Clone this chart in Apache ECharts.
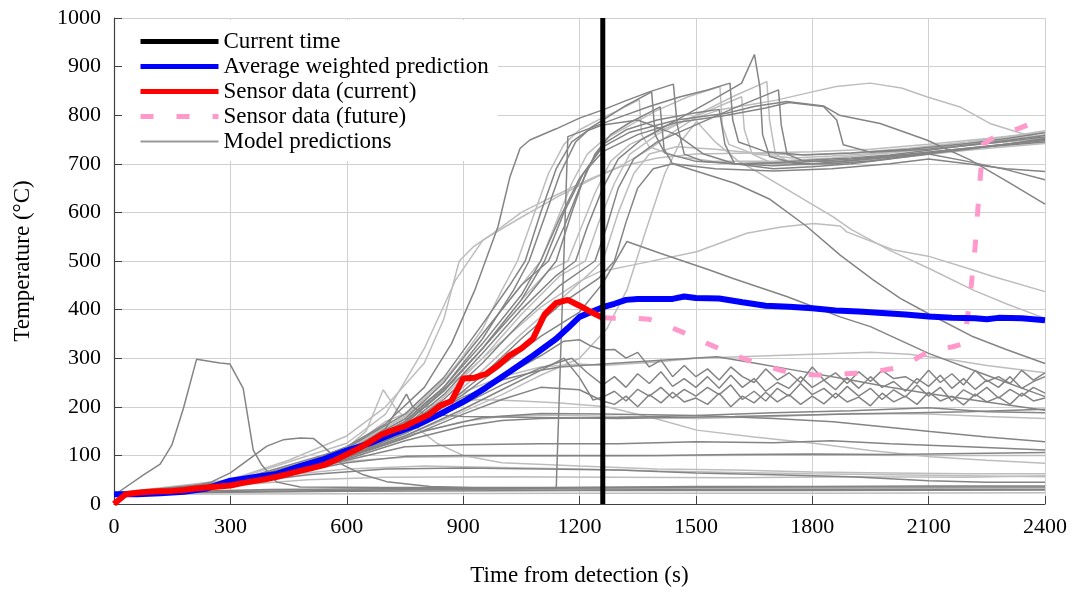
<!DOCTYPE html>
<html>
<head>
<meta charset="utf-8">
<script src="https://cdn.jsdelivr.net/npm/echarts@6/dist/echarts.min.js"></script>
<style>
  html, body { margin: 0; padding: 0; background: #fff; }
  #chart { width: 1078px; height: 595px; }
</style>
</head>
<body>
<div id="chart"></div>
<script>
// Time of the current forecast (s)
const currentTime = 1260;

// Measured sensor temperature up to the current time: [s, °C]
const sensorCurrent = [
  [0,0],[30,20],[60,23],[90,25],[120,26],[150,27],[180,29],[210,32],[240,34],[270,36],
  [300,38],[330,43],[360,47],[390,51],[420,56],[450,62],[480,68],[510,74],[540,80],[570,90],
  [600,102],[630,114],[660,128],[690,143],[720,152],[750,160],[780,172],[810,183],[840,202],[870,212],
  [900,258],[930,260],[960,268],[990,285],[1020,306],[1050,320],[1080,340],[1110,390],[1140,414],[1170,420],
  [1200,408],[1230,395],[1260,383]
];

// Sensor temperature after the current time: [s, °C]
const sensorFuture = [
  [1260,383],[1290,382],[1320,382],[1350,382],[1380,380],[1410,372],[1440,362],[1470,352],[1500,342],
  [1530,330],[1560,320],[1590,310],[1620,300],[1650,292],[1680,284],[1710,277],[1740,271],[1770,268],
  [1800,266],[1830,265],[1860,266],[1890,268],[1920,270],[1950,272],[1980,275],[2010,279],[2040,288],
  [2070,300],[2100,314],[2130,320],[2160,323],[2190,330],[2200,382],[2210,450],[2220,530],[2230,640],
  [2240,740],[2270,755],[2310,766],[2340,775],[2370,785],[2400,795]
];

// Weighted average of the model predictions: [s, °C]
const weightedAvg = [
  [0,20],[60,20],[120,22],[180,25],[240,32],[300,48],[360,55],[420,62],[480,78],[540,92],
  [600,110],[660,125],[720,145],[780,162],[840,185],[900,210],[960,240],[1020,272],[1080,305],[1140,340],
  [1170,362],[1200,385],[1230,395],[1260,405],[1290,412],[1320,420],[1350,422],[1410,422],[1440,422],[1470,427],
  [1500,424],[1560,423],[1620,415],[1680,408],[1740,406],[1800,403],[1860,398],[1920,396],[1980,393],[2040,390],
  [2100,386],[2160,383],[2220,382],[2250,380],[2280,383],[2340,382],[2400,378]
];

// Individual model runs, darker group: each run is a list of [s, °C]
const modelRunsDark = [
  [[0,20],[150,24],[300,46],[450,72],[600,118],[700,165],[800,240],[870,330],[930,440],[990,571],[1021,674],[1047,732],[1072,749],[1140,772],[1200,794],[1260,811],[1320,830],[1380,848],[1442,864],[1452,780],[1470,720],[1520,705],[1600,700],[1700,702],[1800,708],[1900,712],[2000,718],[2100,728],[2200,738],[2300,748],[2400,758]],
  [[0,18],[300,40],[600,105],[750,170],[850,240],[950,340],[1030,440],[1070,500],[1110,590],[1150,680],[1190,745],[1230,775],[1260,790],[1320,820],[1386,848],[1395,760],[1420,722],[1500,705],[1600,700],[1750,702],[1900,710],[2050,720],[2200,732],[2300,740],[2400,748]],
  [[0,20],[300,44],[600,108],[750,175],[850,250],[950,350],[1050,450],[1120,500],[1160,570],[1200,650],[1240,720],[1280,760],[1330,785],[1408,817],[1418,730],[1440,700],[1500,685],[1600,660],[1691,627],[1786,571],[1872,512],[1957,461],[2027,423],[2099,392],[2215,344],[2300,318],[2400,289]],
  [[0,20],[200,24],[400,26],[600,28],[800,30],[1000,31],[1140,32],[1170,756],[1236,776],[1300,795],[1380,818],[1460,838],[1530,852],[1588,866],[1595,790],[1610,745],[1680,725],[1780,718],[1900,722],[2050,730],[2200,742],[2300,752],[2400,764]],
  [[0,21],[300,44],[600,100],[750,160],[850,225],[950,310],[1050,400],[1140,470],[1190,500],[1220,570],[1260,650],[1300,710],[1360,750],[1450,790],[1540,830],[1618,866],[1651,925],[1665,858],[1672,760],[1690,715],[1760,700],[1850,700],[1950,706],[2050,716],[2200,730],[2300,740],[2400,750]],
  [[0,22],[300,46],[600,102],[750,158],[850,215],[950,290],[1050,375],[1150,450],[1240,500],[1270,570],[1300,650],[1340,710],[1400,745],[1500,780],[1600,815],[1713,852],[1720,780],[1735,720],[1780,705],[1880,706],[2000,715],[2150,728],[2300,740],[2400,752]],
  [[0,20],[300,45],[600,115],[750,185],[850,260],[950,370],[1020,450],[1060,500],[1100,600],[1140,690],[1180,745],[1220,768],[1260,780],[1350,790],[1450,760],[1520,720],[1600,700],[1700,696],[1800,700],[1950,710],[2100,722],[2250,735],[2400,745]],
  [[0,20],[300,40],[600,96],[750,148],[850,200],[950,265],[1050,340],[1150,410],[1250,465],[1290,500],[1320,580],[1350,650],[1390,690],[1440,700],[1550,690],[1700,685],[1850,690],[2000,700],[2100,710],[2200,700],[2300,690],[2400,684]],
  [[0,21],[300,43],[600,103],[750,165],[850,235],[950,320],[1050,410],[1110,470],[1140,500],[1180,600],[1220,690],[1260,740],[1320,770],[1400,790],[1500,805],[1560,812],[1575,740],[1600,700],[1700,690],[1800,694],[1900,700],[2000,710],[2100,720],[2200,705],[2300,688],[2400,667]],
  [[0,20],[300,44],[600,104],[750,165],[850,232],[950,320],[1050,420],[1110,500],[1160,600],[1210,680],[1260,725],[1350,760],[1450,785],[1580,800],[1680,815],[1740,826],[1829,818],[1863,790],[1880,739],[1950,724],[2100,730],[2250,742],[2400,755]],
  [[0,19],[300,42],[600,100],[750,155],[900,225],[1000,285],[1100,345],[1200,395],[1260,454],[1322,540],[1408,516],[1537,481],[1596,464],[1734,427],[1872,385],[1950,365],[2100,310],[2250,265],[2400,221]],
  [[0,20],[300,43],[600,106],[750,170],[850,240],[950,330],[1050,430],[1100,500],[1150,590],[1200,670],[1260,735],[1330,765],[1450,790],[1579,804],[1650,818],[1734,828],[1829,819],[1870,800],[1975,783],[2095,749],[2207,708],[2300,665],[2400,617]],
  [[0,20],[300,44],[600,100],[750,150],[900,215],[1000,260],[1100,305],[1160,335],[1200,338],[1230,325],[1260,317],[1290,318],[1320,300],[1350,312],[1380,282],[1410,296],[1440,262],[1470,285],[1500,262],[1530,278],[1560,255],[1590,282],[1620,262],[1650,250],[1680,278],[1710,255],[1740,270],[1770,250],[1800,282],[1830,255],[1860,270],[1890,248],[1920,272],[1950,252],[1980,275],[2010,258],[2040,262],[2070,248],[2100,275],[2130,250],[2160,268],[2190,245],[2220,275],[2250,252],[2280,262],[2310,248],[2340,275],[2370,255],[2400,270]],
  [[0,20],[300,42],[600,98],[750,145],[900,205],[1000,245],[1100,280],[1180,300],[1220,270],[1260,245],[1290,262],[1320,240],[1350,268],[1380,248],[1410,272],[1440,242],[1470,258],[1500,240],[1530,262],[1560,238],[1590,265],[1620,240],[1650,258],[1680,232],[1710,250],[1740,238],[1770,262],[1800,240],[1830,255],[1860,235],[1890,260],[1920,238],[1950,262],[1980,240],[2010,252],[2040,232],[2070,258],[2100,242],[2130,265],[2160,238],[2190,258],[2220,236],[2250,255],[2280,240],[2310,262],[2340,238],[2370,252],[2400,262]],
  [[0,20],[300,41],[600,97],[750,140],[900,195],[1000,235],[1100,275],[1160,300],[1200,260],[1235,214],[1260,220],[1290,232],[1320,212],[1350,236],[1380,222],[1410,240],[1440,218],[1470,236],[1500,222],[1530,240],[1560,225],[1590,245],[1620,215],[1650,232],[1680,212],[1710,238],[1740,222],[1770,248],[1800,225],[1830,238],[1860,218],[1890,242],[1920,222],[1950,238],[1980,215],[2010,235],[2040,220],[2070,245],[2100,222],[2130,240],[2160,212],[2190,235],[2220,222],[2250,240],[2280,218],[2310,236],[2340,222],[2370,240],[2400,228]],
  [[0,20],[300,40],[600,95],[750,135],[900,185],[1000,215],[1100,240],[1200,235],[1260,212],[1290,205],[1320,222],[1350,200],[1380,225],[1410,208],[1440,230],[1470,210],[1500,218],[1530,205],[1560,228],[1590,200],[1620,222],[1650,208],[1680,230],[1710,210],[1740,225],[1770,205],[1800,222],[1830,206],[1860,228],[1890,210],[1920,220],[1950,202],[1980,228],[2010,210],[2040,222],[2070,205],[2100,230],[2130,212],[2160,222],[2190,204],[2220,226],[2250,210],[2280,220],[2310,205],[2340,228],[2370,212],[2400,218]],
  [[0,20],[300,43],[600,104],[750,160],[900,220],[1000,255],[1100,275],[1150,282],[1300,290],[1450,298],[1554,303],[1650,290],[1750,276],[1900,255],[2000,240],[2095,228],[2250,210],[2400,193]],
  [[0,20],[300,40],[600,92],[750,130],[900,160],[1000,172],[1100,176],[1300,178],[1500,182],[1700,188],[1900,192],[2100,198],[2250,190],[2400,188]],
  [[0,20],[300,42],[600,96],[800,150],[950,178],[1100,186],[1260,185],[1500,182],[1700,176],[1854,169],[2104,149],[2250,138],[2400,128]],
  [[0,20],[300,40],[600,90],[750,118],[900,122],[1100,124],[1300,124],[1500,128],[1700,126],[1850,130],[2000,124],[2200,118],[2400,111]],
  [[0,20],[300,38],[600,85],[750,98],[900,100],[1100,100],[1400,100],[1600,102],[1800,103],[2000,102],[2200,104],[2400,106]],
  [[0,20],[300,40],[500,60],[700,72],[900,74],[1100,72],[1300,70],[1500,64],[1700,60],[1900,56],[2100,48],[2250,45],[2400,45]],
  [[0,22],[400,30],[800,32],[1200,34],[1500,36],[1800,36],[2100,37],[2400,37]],
  [[0,22],[600,26],[1200,28],[1800,28],[2400,29]],
  [[0,18],[76,60],[119,82],[149,121],[179,197],[213,298],[273,290],[299,288],[333,238],[359,111],[381,80],[420,45],[480,35],[700,34],[1200,34],[1800,35],[2400,35]],
  [[0,20],[150,28],[250,45],[300,64],[351,94],[394,119],[436,132],[480,136],[514,135],[540,118],[591,80],[643,60],[703,46],[815,36],[1000,32],[1500,30],[2000,30],[2400,30]],
  [[0,20],[300,42],[600,105],[700,155],[754,226],[770,200],[800,185],[900,180],[1100,178],[1300,176],[1600,180],[1900,185],[2200,190],[2400,195]]
];

// Individual model runs, lighter group
const modelRunsLight = [
  [[0,20],[300,42],[600,110],[750,175],[850,250],[950,360],[1000,440],[1040,500],[1080,590],[1120,680],[1160,740],[1200,770],[1260,795],[1300,810],[1354,832],[1360,760],[1380,735],[1450,715],[1550,705],[1700,705],[1850,712],[2000,722],[2150,735],[2300,745],[2400,752]],
  [[0,22],[300,45],[600,112],[750,180],[850,255],[950,350],[1050,450],[1100,500],[1140,580],[1180,660],[1220,720],[1260,748],[1320,775],[1400,810],[1480,838],[1562,859],[1568,780],[1585,740],[1650,720],[1750,712],[1850,716],[2000,724],[2150,736],[2300,750],[2400,760]],
  [[0,19],[300,43],[600,104],[750,168],[850,232],[950,320],[1050,420],[1120,480],[1170,500],[1200,560],[1240,640],[1280,705],[1330,740],[1420,772],[1520,805],[1618,838],[1625,770],[1645,720],[1700,700],[1800,698],[1900,705],[2050,715],[2200,728],[2300,735],[2400,742]],
  [[0,20],[300,41],[600,98],[750,155],[850,220],[950,300],[1050,390],[1150,470],[1215,500],[1250,580],[1290,660],[1330,720],[1400,760],[1500,800],[1600,840],[1683,869],[1690,790],[1705,720],[1750,700],[1850,700],[1950,708],[2100,722],[2250,735],[2400,748]],
  [[0,20],[300,42],[600,100],[750,150],[850,205],[950,275],[1050,350],[1150,420],[1220,470],[1260,500],[1300,600],[1340,680],[1380,720],[1450,735],[1550,730],[1650,722],[1750,718],[1900,722],[2050,732],[2200,745],[2300,755],[2400,768]],
  [[0,22],[300,50],[450,90],[600,140],[700,200],[800,290],[850,380],[890,500],[926,529],[977,557],[1050,600],[1100,620],[1167,646],[1230,670],[1304,694],[1380,730],[1450,770],[1500,795],[1562,811],[1650,823],[1708,831],[1800,848],[1862,859],[1949,866],[2030,856],[2095,838],[2181,817],[2258,783],[2330,765],[2400,749]],
  [[0,20],[300,48],[600,125],[700,185],[800,320],[880,460],[951,543],[1050,590],[1150,635],[1250,675],[1304,694],[1400,712],[1500,720],[1650,722],[1800,725],[1950,730],[2100,740],[2250,752],[2400,765]],
  [[0,20],[300,40],[600,95],[750,140],[900,190],[1000,225],[1100,265],[1200,300],[1270,360],[1322,440],[1370,560],[1420,680],[1460,745],[1502,787],[1550,745],[1610,705],[1666,680],[1750,640],[1854,591],[1900,565],[2000,522],[2100,485],[2215,440],[2300,412],[2400,382]],
  [[0,20],[300,46],[600,112],[750,180],[900,265],[1000,335],[1100,405],[1200,458],[1252,478],[1339,492],[1502,519],[1631,557],[1720,570],[1803,577],[1872,572],[1889,560],[2008,523],[2099,510],[2200,485],[2266,468],[2400,437]],
  [[0,20],[300,45],[600,108],[750,165],[900,230],[1000,262],[1100,282],[1200,288],[1260,285],[1400,292],[1500,300],[1650,304],[1800,308],[1950,312],[2050,308],[2150,298],[2250,285],[2400,270]],
  [[0,20],[300,44],[600,98],[750,140],[900,170],[1000,180],[1100,183],[1300,180],[1500,176],[1700,180],[1900,186],[2100,185],[2250,180],[2400,176]],
  [[0,20],[300,45],[600,110],[700,170],[780,195],[850,210],[950,215],[1050,212],[1150,208],[1270,200],[1400,175],[1502,152],[1650,138],[1803,125],[1950,110],[2104,97],[2250,90],[2400,84]],
  [[0,20],[300,40],[600,88],[750,96],[1000,98],[1300,99],[1500,100],[1800,101],[2100,100],[2400,100]],
  [[0,20],[300,42],[450,60],[600,72],[800,78],[1000,75],[1200,72],[1400,68],[1600,65],[1800,62],[2000,60],[2200,58],[2400,56]],
  [[0,20],[300,38],[500,50],[700,55],[1000,56],[1300,55],[1600,54],[1900,56],[2200,55],[2400,58]],
  [[0,20],[600,21],[1200,22],[1800,22],[2400,23]],
  [[0,24],[600,30],[1200,31],[1800,32],[2400,33]],
  [[0,20],[300,44],[500,85],[600,115],[650,150],[694,235],[729,193],[789,152],[832,125],[900,100],[1000,85],[1200,78],[1400,72],[1600,70],[1800,66],[2000,64],[2200,62],[2400,62]]
];

const FONT = 'Liberation Serif, Times New Roman, serif';
const MODEL = 'Model predictions';
const NO_MARK = { color: 'rgba(0,0,0,0)', borderColor: 'rgba(0,0,0,0)', borderWidth: 0, opacity: 0 };

const series = [];
modelRunsLight.forEach(run => series.push({
  name: MODEL, type: 'line', data: run, symbol: 'none', silent: true, z: 2,
  lineStyle: { color: '#bdbdbd', width: 1.5 }
}));
modelRunsDark.forEach(run => series.push({
  name: MODEL, type: 'line', data: run, symbol: 'none', silent: true, z: 2,
  lineStyle: { color: '#848484', width: 1.5 }
}));
series.push({
  name: 'Sensor data (future)', type: 'line', data: sensorFuture, symbol: 'none', z: 3,
  lineStyle: { color: '#ff99cc', width: 5, type: [13, 23], cap: 'butt' }
});
series.push({
  name: 'Average weighted prediction', type: 'line', data: weightedAvg, symbol: 'none', z: 4,
  lineStyle: { color: '#0000ff', width: 6 }
});
series.push({
  name: 'Sensor data (current)', type: 'line', data: sensorCurrent, symbol: 'none', z: 5,
  lineStyle: { color: '#ff0000', width: 6 }
});
series.push({
  name: 'Current time', type: 'line', data: [[currentTime, 0], [currentTime, 1000]], symbol: 'none', z: 6,
  lineStyle: { color: '#000000', width: 5 }
});

const chart = echarts.init(document.getElementById('chart'), null, { renderer: 'canvas' });
chart.setOption({
  animation: false,
  backgroundColor: '#ffffff',
  grid: { left: 114, right: 33, top: 18, bottom: 91, containLabel: false, outerBoundsMode: 'none' },
  legend: {
    left: 122, top: 20, orient: 'vertical',
    padding: [10, 9, 8, 16],
    backgroundColor: '#ffffff',
    itemWidth: 78, itemHeight: 14, itemGap: 2,
    selectedMode: false,
    itemStyle: NO_MARK,
    textStyle: { fontFamily: FONT, fontSize: 23, color: '#000', lineHeight: 21 },
    data: [
      { name: 'Current time', itemStyle: NO_MARK, lineStyle: { color: '#000000', width: 5 } },
      { name: 'Average weighted prediction', itemStyle: NO_MARK, lineStyle: { color: '#0000ff', width: 5 } },
      { name: 'Sensor data (current)', itemStyle: NO_MARK, lineStyle: { color: '#ff0000', width: 5 } },
      { name: 'Sensor data (future)', itemStyle: NO_MARK, lineStyle: { color: '#ff99cc', width: 5, type: [13, 23] } },
      { name: MODEL, itemStyle: NO_MARK, lineStyle: { color: '#999999', width: 2 } }
    ]
  },
  xAxis: {
    type: 'value', min: 0, max: 2400, interval: 300,
    name: 'Time from detection (s)', nameLocation: 'middle', nameGap: 60,
    nameTextStyle: { fontFamily: FONT, fontSize: 23, color: '#000' },
    axisLine: { show: true, onZero: false, lineStyle: { color: '#404040', width: 1.2 } },
    axisTick: { show: true, inside: true, length: 8, lineStyle: { color: '#404040' } },
    axisLabel: { fontFamily: FONT, fontSize: 22, color: '#000', margin: 12, formatter: v => String(v) },
    splitLine: { show: true, lineStyle: { color: '#d0d0d0', width: 1 } }
  },
  yAxis: {
    type: 'value', min: 0, max: 1000, interval: 100,
    name: 'Temperature (°C)', nameLocation: 'middle', nameGap: 80, nameRotate: 90,
    nameTextStyle: { fontFamily: FONT, fontSize: 23, color: '#000' },
    axisLine: { show: true, lineStyle: { color: '#404040', width: 1.2 } },
    axisTick: { show: true, inside: true, length: 8, lineStyle: { color: '#404040' } },
    axisLabel: { fontFamily: FONT, fontSize: 22, color: '#000', margin: 13, formatter: v => String(v) },
    splitLine: { show: true, lineStyle: { color: '#d0d0d0', width: 1 } }
  },
  series: series
});
</script>
</body>
</html>
